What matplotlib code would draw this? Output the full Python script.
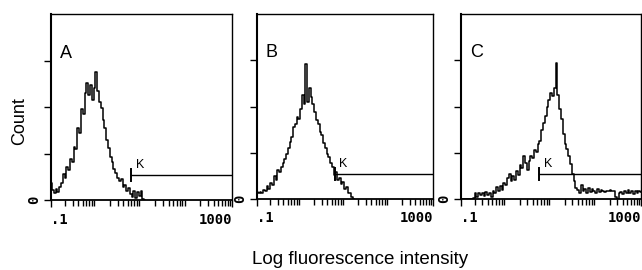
import numpy as np
import matplotlib
matplotlib.use("Agg")
import matplotlib.pyplot as plt
from matplotlib.ticker import LogLocator, NullFormatter

# histogram counts, one value per channel (25 channels per decade, starting at 0.1)
counts_a = [0.36, 0.22, 0.14, 0.24, 0.17, 0.28, 0.36, 0.55, 0.48, 0.70,
            0.64, 0.88, 0.82, 1.15, 1.10, 1.55, 1.45, 1.95, 1.85, 2.30,
            2.52, 2.25, 2.48, 2.15, 2.40, 2.75, 2.35, 2.10, 1.98, 1.72,
            1.55, 1.30, 1.12, 0.92, 0.82, 0.66, 0.58, 0.48, 0.40, 0.45,
            0.28, 0.33, 0.19, 0.26, 0.12, 0.07, 0.19, 0.04, 0.17, 0.08,
            0.20, 0.03, 0.0]
counts_b = [0.15, 0.14, 0.16, 0.12, 0.20, 0.17, 0.28, 0.22, 0.35, 0.30,
            0.50, 0.42, 0.62, 0.58, 0.70, 0.78, 0.86, 0.98, 1.10, 1.24,
            1.35, 1.55, 1.62, 1.78, 1.72, 1.95, 2.25, 2.05, 2.92, 2.10,
            2.40, 2.20, 2.05, 1.88, 1.70, 1.62, 1.45, 1.38, 1.22, 1.10,
            0.98, 0.90, 0.78, 0.70, 0.52, 0.58, 0.42, 0.46, 0.32, 0.36,
            0.22, 0.25, 0.12, 0.14, 0.05, 0.0]
counts_c = [0.0, 0.0, 0.0, 0.0, 0.0, 0.0, 0.0, 0.02, 0.13, 0.05,
            0.12, 0.08, 0.14, 0.06, 0.15, 0.08, 0.12, 0.04, 0.18, 0.14,
            0.26, 0.18, 0.28, 0.20, 0.34, 0.30, 0.45, 0.55, 0.38, 0.50,
            0.42, 0.60, 0.52, 0.74, 0.66, 0.92, 0.78, 0.62, 0.82, 0.94,
            0.88, 1.05, 1.02, 1.18, 1.25, 1.50, 1.65, 1.80, 1.98, 2.15,
            2.30, 2.22, 2.40, 2.95, 2.25, 1.95, 1.72, 1.40, 1.18, 1.08,
            0.92, 0.75, 0.55, 0.38, 0.24, 0.20, 0.14, 0.30, 0.18, 0.22,
            0.12, 0.24, 0.16, 0.22, 0.18, 0.14, 0.22, 0.16, 0.20, 0.18,
            0.16, 0.18, 0.17, 0.19, 0.17, 0.17, 0.05, 0.0, 0.12, 0.16,
            0.10, 0.18, 0.14, 0.20, 0.12, 0.17, 0.10, 0.18, 0.13, 0.17,
            0.15]

panel_letters = ["A", "B", "C"]
gate_start = [5.9, 5.9, 5.5]
gate_level = [0.54, 0.54, 0.55]
channels_per_decade = 25

W, H = 642, 270
fig = plt.figure(figsize=(W / 100, H / 100), dpi=100)
boxes = [(51, 14, 181, 186), (257, 14, 176, 185), (461, 14, 180, 185)]

mono = {"family": "DejaVu Sans Mono", "weight": "bold", "size": 10}

for counts, letter, g0, gl, (x0, y0, w, h) in zip(
        [counts_a, counts_b, counts_c], panel_letters, gate_start, gate_level, boxes):
    ax = fig.add_axes([x0 / W, 1 - (y0 + h) / H, w / W, h / H])
    ch = np.arange(len(counts))
    x = 0.1 * 10 ** (ch / channels_per_decade)
    ax.plot(x, counts, color="black", lw=1.1, drawstyle="steps-mid")

    # gate marker
    ax.plot([g0, 1000], [gl, gl], color="black", lw=1.0)
    ax.plot([g0, g0], [gl - 0.13, gl + 0.12], color="black", lw=1.4)
    ax.text(g0 * 1.25, gl + 0.08, "K", fontsize=9, family="Liberation Sans",
            ha="left", va="bottom")

    ax.text(0.05, 0.79, letter, transform=ax.transAxes, fontsize=13,
            family="Liberation Sans", ha="left", va="center")

    ax.set_xscale("log")
    ax.set_xlim(0.1, 1000)
    ax.set_ylim(0, 4)
    ax.set_xticks([0.1, 1000])
    ax.set_xticklabels([".1", "1000"], fontdict=mono)
    labs = ax.get_xticklabels()
    labs[0].set_ha("left")
    labs[1].set_ha("right")
    ax.xaxis.set_minor_locator(LogLocator(base=10, subs=np.arange(2, 10)))
    ax.xaxis.set_minor_formatter(NullFormatter())
    ax.set_yticks([0, 1, 2, 3])
    ax.set_yticklabels(["0", "", "", ""], fontdict=mono, rotation=90, va="center")
    ax.tick_params(axis="x", which="major", direction="out", length=5, width=1.0, pad=4)
    ax.tick_params(axis="x", which="minor", direction="out", length=4.5, width=1.0)
    ax.tick_params(axis="y", direction="out", length=5, width=1.0, pad=2)
    for s in ax.spines.values():
        s.set_linewidth(1.0)
    ax.spines["left"].set_linewidth(1.5)
    ax.spines["bottom"].set_linewidth(1.3)

fig.text(20 / W, 1 - 121 / H, "Count", rotation=90, ha="center", va="center",
         fontsize=13, family="Liberation Sans")
fig.text(360 / W, 1 - 259 / H, "Log fluorescence intensity", ha="center",
         va="center", fontsize=13.5, family="Liberation Sans")

fig.savefig("out.png", dpi=100)
